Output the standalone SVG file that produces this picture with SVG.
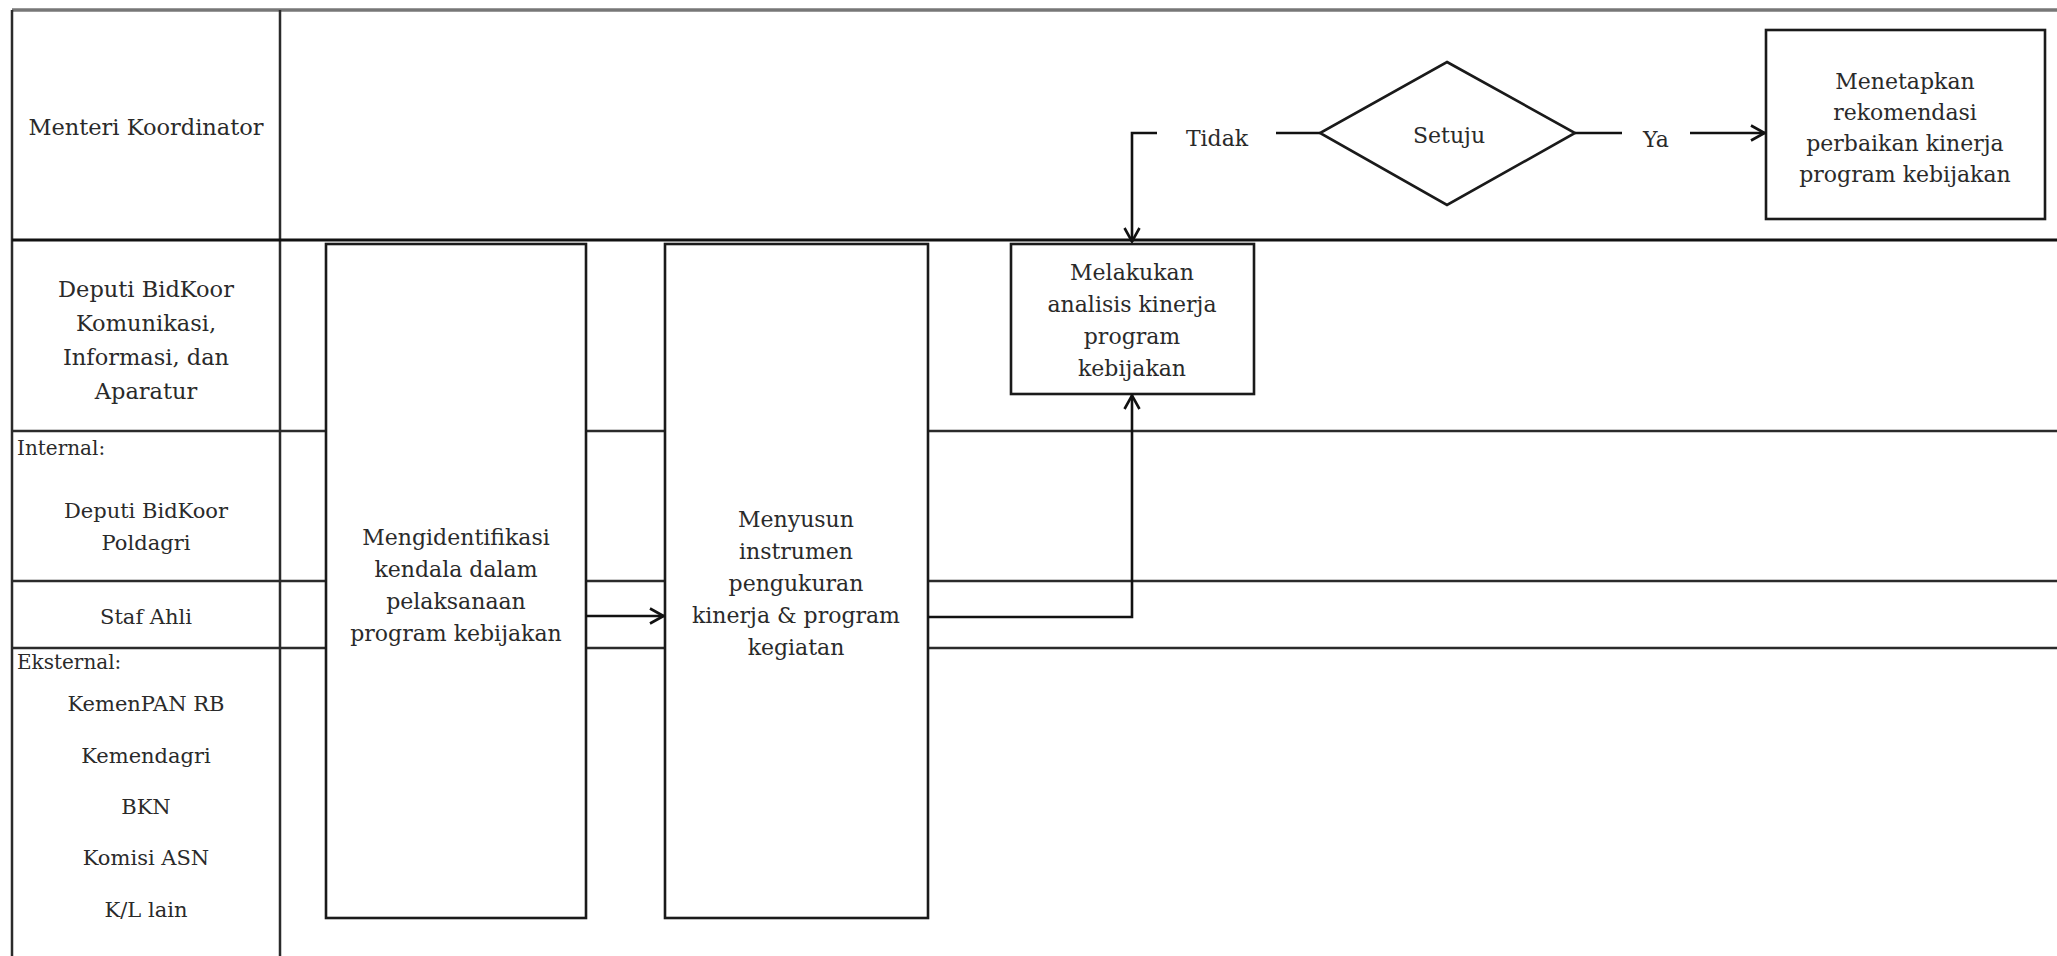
<svg xmlns="http://www.w3.org/2000/svg" width="2057" height="956" viewBox="0 0 2057 956">
<style>
  .lane{stroke:#2b2b2b;stroke-width:2.5;fill:none}
  .top{stroke:#777;stroke-width:3.5;fill:none}
  .box{fill:#fff;stroke:#1a1a1a;stroke-width:2.6}
  .conn{stroke:#111;stroke-width:2.6;fill:none}
  text{font-family:"DejaVu Serif","Liberation Serif",serif;fill:#2a2a2a}
  .big{font-size:22.5px;text-anchor:middle}
  .sm{font-size:21px;text-anchor:middle}
  .hd{font-size:20px;text-anchor:start}
  .bt{font-size:22px;text-anchor:middle}
</style>
<defs>
  <marker id="arr" viewBox="0 0 16 18" refX="15" refY="9" markerWidth="16" markerHeight="18" markerUnits="userSpaceOnUse" orient="auto">
    <path d="M1,1.5 L14.5,9 L1,16.5" fill="none" stroke="#111" stroke-width="2.6"/>
  </marker>
</defs>
<rect x="0" y="0" width="2057" height="956" fill="#fff"/>

<g id="lanes">
  <line class="top" x1="12" y1="10" x2="2057" y2="10"/>
  <line class="lane" x1="12" y1="10" x2="12" y2="956"/>
  <line class="lane" x1="280" y1="10" x2="280" y2="956"/>
  <line class="lane" x1="12" y1="240" x2="2057" y2="240" style="stroke:#111;stroke-width:3"/>
  <line class="lane" x1="12" y1="431" x2="2057" y2="431"/>
  <line class="lane" x1="12" y1="581" x2="2057" y2="581"/>
  <line class="lane" x1="12" y1="648" x2="2057" y2="648"/>
  <text class="big" x="146" y="135">Menteri Koordinator</text>
  <text class="big" x="146" y="297">Deputi BidKoor</text>
  <text class="big" x="146" y="331">Komunikasi,</text>
  <text class="big" x="146" y="365">Informasi, dan</text>
  <text class="big" x="146" y="399">Aparatur</text>
  <text class="hd" x="17" y="455">Internal:</text>
  <text class="sm" x="146" y="518">Deputi BidKoor</text>
  <text class="sm" x="146" y="550">Poldagri</text>
  <text class="sm" x="146" y="624">Staf Ahli</text>
  <text class="hd" x="17" y="669">Eksternal:</text>
  <text class="sm" x="146" y="711">KemenPAN RB</text>
  <text class="sm" x="146" y="763">Kemendagri</text>
  <text class="sm" x="146" y="814">BKN</text>
  <text class="sm" x="146" y="865">Komisi ASN</text>
  <text class="sm" x="146" y="917">K/L lain</text>
</g>

<g id="node-identifikasi">
  <rect class="box" x="326" y="244" width="260" height="674"/>
  <text class="bt" x="456" y="545">Mengidentifikasi</text>
  <text class="bt" x="456" y="577">kendala dalam</text>
  <text class="bt" x="456" y="609">pelaksanaan</text>
  <text class="bt" x="456" y="641">program kebijakan</text>
</g>

<g id="node-menyusun">
  <rect class="box" x="665" y="244" width="263" height="674"/>
  <text class="bt" x="796" y="527">Menyusun</text>
  <text class="bt" x="796" y="559">instrumen</text>
  <text class="bt" x="796" y="591">pengukuran</text>
  <text class="bt" x="796" y="623">kinerja &amp; program</text>
  <text class="bt" x="796" y="655">kegiatan</text>
</g>

<g id="node-analisis">
  <rect class="box" x="1011" y="244" width="243" height="150"/>
  <text class="bt" x="1132" y="280">Melakukan</text>
  <text class="bt" x="1132" y="312">analisis kinerja</text>
  <text class="bt" x="1132" y="344">program</text>
  <text class="bt" x="1132" y="376">kebijakan</text>
</g>

<g id="node-setuju">
  <polygon class="box" points="1447,62 1575,133 1447,205 1320,133"/>
  <text class="bt" x="1449" y="143">Setuju</text>
</g>

<g id="node-menetapkan">
  <rect class="box" x="1766" y="30" width="279" height="189"/>
  <text class="bt" x="1905" y="89">Menetapkan</text>
  <text class="bt" x="1905" y="120">rekomendasi</text>
  <text class="bt" x="1905" y="151">perbaikan kinerja</text>
  <text class="bt" x="1905" y="182">program kebijakan</text>
</g>

<g id="connectors">
  <line class="conn" x1="586" y1="616" x2="664" y2="616" marker-end="url(#arr)"/>
  <polyline class="conn" points="928,617 1132,617 1132,395" marker-end="url(#arr)"/>
  <line class="conn" x1="1320" y1="133" x2="1276" y2="133"/>
  <polyline class="conn" points="1157,133 1132,133 1132,242" marker-end="url(#arr)"/>
  <text class="bt" x="1217" y="146">Tidak</text>
  <line class="conn" x1="1575" y1="133" x2="1622" y2="133"/>
  <line class="conn" x1="1690" y1="133" x2="1765" y2="133" marker-end="url(#arr)"/>
  <text class="bt" x="1656" y="147">Ya</text>
</g>
</svg>
